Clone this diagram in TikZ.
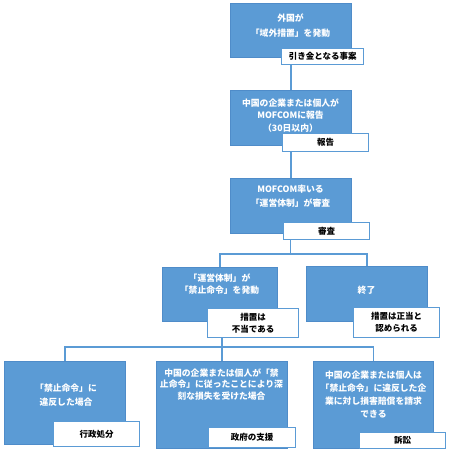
\documentclass[tikz,border=0pt]{standalone}
\usepackage{fontspec}
\setmainfont{Noto Sans CJK JP}
\definecolor{boxblue}{HTML}{5B9BD5}
\definecolor{lineblue}{HTML}{5B9BD5}
\definecolor{edgeblue}{HTML}{4F8CC9}
\begin{document}
\begin{tikzpicture}[x=1pt,y=-1pt,
  bluebox/.style={fill=boxblue, draw=edgeblue, line width=0.6pt, inner sep=0pt, anchor=north west},
  labelbox/.style={fill=white, draw=lineblue, line width=1.4pt, inner sep=0pt, anchor=north west, align=center, text=black, font=\fontsize{8.5}{12}\selectfont\bfseries},
  bluetext/.style={text=white, font=\fontsize{8.8}{12.5}\selectfont\bfseries, align=center, inner sep=0pt},
  conn/.style={draw=lineblue, line width=1.5pt}]
\useasboundingbox[fill=white] (0,0) rectangle (450,458);

% level 1
\node[bluebox, minimum width=121pt, minimum height=54pt] (b1) at (230,3) {};
\node[bluetext, font=\fontsize{8.8}{15}\selectfont\bfseries] (t1) at (290.5,25.5) {外国が\\「域外措置」を発動};
\node[labelbox, minimum width=82pt, minimum height=16pt] (l1) at (281,48) {引き金となる事案};

% level 2
\node[bluebox, minimum width=121pt, minimum height=55pt] (b2) at (230,90) {};
\node[bluetext] (t2) at (290.5,115.5) {中国の企業または個人が\\MOFCOMに報告\\（30日以内）};
\node[labelbox, minimum width=86pt, minimum height=18pt] (l2) at (282,133) {報告};

% level 3
\node[bluebox, minimum width=121pt, minimum height=55pt] (b3) at (230,178) {};
\node[bluetext, font=\fontsize{8.8}{14}\selectfont\bfseries] (t3) at (290.5,196) {MOFCOM率いる\\「運営体制」が審査};
\node[labelbox, minimum width=86pt, minimum height=17pt] (l3) at (283,222) {審査};

% level 4
\node[bluebox, minimum width=115pt, minimum height=54pt] (b4) at (162,267) {};
\node[bluetext, font=\fontsize{8.8}{12}\selectfont\bfseries] (t4) at (219.5,284) {「運営体制」が\\「禁止命令」を発動};
\node[labelbox, minimum width=91pt, minimum height=29pt] (l4) at (207,308) {措置は\\不当である};

\node[bluebox, minimum width=121pt, minimum height=55pt] (b5) at (306,266) {};
\node[bluetext] (t5) at (366.5,290) {終了};
\node[labelbox, minimum width=86pt, minimum height=30pt] (l5) at (353,307) {措置は正当と\\認められる};

% level 5
\node[bluebox, minimum width=121pt, minimum height=83pt] (b6) at (4,361) {};
\node[bluetext, font=\fontsize{8.8}{14}\selectfont\bfseries] (t6) at (66,395) {「禁止命令」に\\違反した場合};
\node[labelbox, minimum width=86pt, minimum height=25pt] (l6) at (53,421) {行政処分};

\node[bluebox, minimum width=131pt, minimum height=87pt] (b7) at (156,361) {};
\node[bluetext, font=\fontsize{8.8}{11.5}\selectfont\bfseries] (t7) at (221.5,384.5) {中国の企業または個人が「禁\\止命令」に従ったことにより深\\刻な損失を受けた場合};
\node[labelbox, minimum width=87pt, minimum height=20pt] (l7) at (208,427) {政府の支援};

\node[bluebox, minimum width=120pt, minimum height=87pt] (b8) at (313,361) {};
\node[bluetext, font=\fontsize{8.8}{13}\selectfont\bfseries] (t8) at (373.5,394.5) {中国の企業または個人は\\「禁止命令」に違反した企\\業に対し損害賠償を請求\\できる};
\node[labelbox, minimum width=86pt, minimum height=16pt] (l8) at (359,432) {訴訟};

% connectors
\coordinate (j1) at (290.5,254);
\coordinate (j2) at (221.5,347);
\draw[conn] (l1.south -| b2.north) -- (b2.north);
\draw[conn] (l2.south -| b3.north) -- (b3.north);
\draw[conn] (l3.south -| j1) -- (j1);
\draw[conn] (b4.north) |- (j1) -| (b5.north);
\draw[conn] (l4.south -| b7.north) -- (b7.north);
\draw[conn] (b6.north) |- (j2) -| (b8.north);
\end{tikzpicture}
\end{document}
